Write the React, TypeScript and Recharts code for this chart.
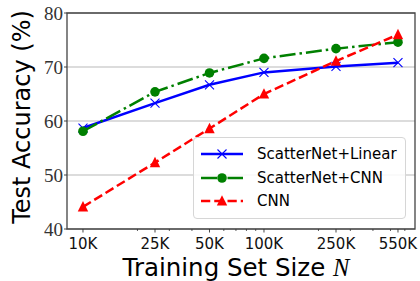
import { CartesianGrid, Label, Line, LineChart, ReferenceArea, XAxis, YAxis } from "recharts";

const sizes = [10000, 25000, 50000, 100000, 250000, 550000];
const sizeLabels = ["10K", "25K", "50K", "100K", "250K", "550K"];
const minorTicks = [20000, 30000, 40000, 60000, 70000, 80000, 90000, 200000, 300000, 400000, 500000, 600000];
const yTicks = [40, 50, 60, 70, 80];

const scatterLinear = [58.7, 63.3, 66.7, 69.0, 70.1, 70.8];
const scatterCnn = [58.1, 65.4, 68.9, 71.6, 73.4, 74.6];
const cnnOnly = [44.1, 52.3, 58.6, 65.0, 71.1, 76.0];

const data = sizes.map((n, i) => ({
  n,
  linear: scatterLinear[i],
  scnn: scatterCnn[i],
  cnn: cnnOnly[i],
}));

const SANS = "'DejaVu Sans', sans-serif";
const SERIF = "'Liberation Serif', 'DejaVu Serif', serif";

const XMark = ({ cx, cy }: any) => (
  <g stroke="#0000ff" strokeWidth={1.1}>
    <line x1={cx - 4.5} y1={cy - 4.5} x2={cx + 4.5} y2={cy + 4.5} />
    <line x1={cx - 4.5} y1={cy + 4.5} x2={cx + 4.5} y2={cy - 4.5} />
  </g>
);

const Circle = ({ cx, cy }: any) => <circle cx={cx} cy={cy} r={4.8} fill="#008000" />;

const Tri = ({ cx, cy }: any) => (
  <path d={`M${cx},${cy - 5.8} L${cx + 5.2},${cy + 4.6} L${cx - 5.2},${cy + 4.6} Z`} fill="#ff0000" />
);

const XTick = ({ x, y, payload }: any) => {
  const i = sizes.indexOf(payload.value);
  if (i < 0) {
    return <line x1={x} y1={y} x2={x} y2={y + 2} stroke="#333" strokeWidth={0.8} />;
  }
  return (
    <g>
      <line x1={x} y1={y} x2={x} y2={y + 3.5} stroke="#333" strokeWidth={0.9} />
      <text x={x} y={y + 19.5} textAnchor="middle" fontFamily={SANS} fontSize={15} fill="#111">
        {sizeLabels[i]}
      </text>
    </g>
  );
};

const YTick = ({ x, y, payload }: any) => (
  <g>
    <line x1={x - 3} y1={y} x2={x} y2={y} stroke="#333" strokeWidth={0.9} />
    <text x={x - 4} y={y + 6.5} textAnchor="end" fontFamily={SERIF} fontSize={19} fill="#333">
      {payload.value}
    </text>
  </g>
);

const YTitle = ({ viewBox }: any) => {
  const cx = viewBox.x + 22;
  const cy = viewBox.y + viewBox.height / 2 - 4;
  return (
    <text
      x={cx}
      y={cy}
      transform={`rotate(-90 ${cx} ${cy})`}
      textAnchor="middle"
      dominantBaseline="central"
      fontFamily={SANS}
      fontSize={24}
      fill="#000"
    >
      Test Accuracy (%)
    </text>
  );
};

const XTitle = ({ viewBox }: any) => (
  <text
    x={viewBox.x + viewBox.width / 2 - 5}
    y={viewBox.y + 46.5}
    textAnchor="middle"
    fontFamily={SANS}
    fontSize={24.5}
    fill="#000"
  >
    Training Set Size{" "}
    <tspan fontFamily={SERIF} fontStyle="italic">
      N
    </tspan>
  </text>
);

const legendItems = [
  { label: "ScatterNet+Linear", color: "#0000ff", dash: undefined, mark: "x" },
  { label: "ScatterNet+CNN", color: "#008000", dash: "16 4 2.5 4", mark: "o" },
  { label: "CNN", color: "#ff0000", dash: "9.25 4", mark: "^" },
];

function ChartLegend() {
  return (
    <div
      style={{
        position: "absolute",
        left: 193,
        top: 137,
        width: 211,
        height: 80,
        border: "1px solid #d6d6d6",
        borderRadius: 4,
        background: "rgba(255,255,255,0.85)",
        fontFamily: SANS,
        fontSize: 15,
        color: "#000",
      }}
    >
      {legendItems.map((it, i) => (
        <div
          key={it.label}
          style={{ position: "absolute", left: 6, top: 5 + i * 23.5, height: 22, display: "flex", alignItems: "center" }}
        >
          <svg width={44} height={22}>
            <line x1={1} y1={11} x2={43} y2={11} stroke={it.color} strokeWidth={2.5} strokeDasharray={it.dash} />
            {it.mark === "x" && <XMark cx={22} cy={11} />}
            {it.mark === "o" && <Circle cx={22} cy={11} />}
            {it.mark === "^" && <Tri cx={22} cy={11} />}
          </svg>
          <span style={{ marginLeft: 13, whiteSpace: "nowrap" }}>{it.label}</span>
        </div>
      ))}
    </div>
  );
}

export default function App() {
  return (
    <div style={{ position: "relative", width: 420, height: 281, background: "#fff" }}>
      <style>{"body{margin:0}"}</style>
      <LineChart width={420} height={281} data={data} margin={{ top: 13, right: 5, left: 0, bottom: 0 }}>
        <CartesianGrid vertical={false} stroke="#d0d0d0" strokeWidth={1.6} />
        <XAxis
          dataKey="n"
          type="number"
          scale="log"
          domain={[8160, 683000]}
          allowDataOverflow
          ticks={[...sizes, ...minorTicks]}
          interval={0}
          height={52}
          tickSize={0}
          tickMargin={0}
          axisLine={false}
          tick={<XTick />}
        >
          <Label content={<XTitle />} />
        </XAxis>
        <YAxis
          type="number"
          domain={[40, 80]}
          ticks={yTicks}
          interval={0}
          width={67}
          tickSize={0}
          tickMargin={0}
          axisLine={false}
          tick={<YTick />}
        >
          <Label content={<YTitle />} />
        </YAxis>
        <ReferenceArea
          x1={8160}
          x2={683000}
          y1={40}
          y2={80}
          fill="none"
          stroke="#444"
          strokeWidth={1.3}
          ifOverflow="visible"
        />
        <Line
          dataKey="linear"
          stroke="#0000ff"
          strokeWidth={2.5}
          dot={<XMark />}
          activeDot={false}
          isAnimationActive={false}
        />
        <Line
          dataKey="scnn"
          stroke="#008000"
          strokeWidth={2.5}
          strokeDasharray="16 4 2.5 4"
          dot={<Circle />}
          activeDot={false}
          isAnimationActive={false}
        />
        <Line
          dataKey="cnn"
          stroke="#ff0000"
          strokeWidth={2.5}
          strokeDasharray="9.25 4"
          dot={<Tri />}
          activeDot={false}
          isAnimationActive={false}
        />
      </LineChart>
      <ChartLegend />
    </div>
  );
}
